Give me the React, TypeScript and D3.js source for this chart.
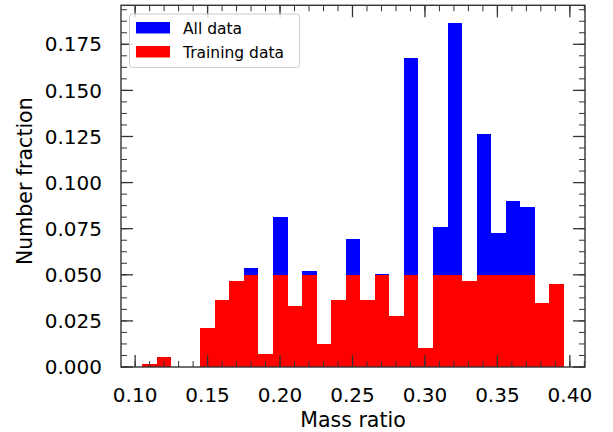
import * as d3 from "d3";

// histogram bins (29 equal bins between binStart and binEnd)
const binStart = 0.1048;
const binEnd = 0.3959;

// number fraction per bin
const allData = [
    0.0016, 0.0053, 0, 0, 0.021, 0.0362, 0.0466, 0.0538, 0.0069, 0.0814,
    0.0332, 0.052, 0.0125, 0.0362, 0.0694, 0.0362, 0.0505, 0.0277, 0.1678, 0.0101,
    0.0759, 0.1868, 0.0466, 0.1265, 0.0727, 0.09, 0.0868, 0.0346, 0.0449,
];
const trainingData = [
    0.0016, 0.0053, 0, 0, 0.021, 0.0362, 0.0466, 0.05, 0.0069, 0.05,
    0.0332, 0.05, 0.0125, 0.0362, 0.05, 0.0362, 0.05, 0.0277, 0.05, 0.0101,
    0.05, 0.05, 0.0466, 0.05, 0.05, 0.05, 0.05, 0.0346, 0.0449,
];

const xTicks = [0.1, 0.15, 0.2, 0.25, 0.3, 0.35, 0.4];
const yTicks = [0, 0.025, 0.05, 0.075, 0.1, 0.125, 0.15, 0.175];

const series = [
    { name: "All data", values: allData, color: "#0000ff" },
    { name: "Training data", values: trainingData, color: "#ff0000" },
];

const width = 613;
const height = 432;
const margin = { top: 5.3, right: 28, bottom: 65, left: 121 };
const font = "'DejaVu Sans', sans-serif";
const axisColor = "#333";

const App = () => {
    const nBins = allData.length;
    const binWidth = (binEnd - binStart) / nBins;
    const span = binEnd - binStart;

    const x = d3
        .scaleLinear()
        .domain([binStart - 0.05 * span, binEnd + 0.05 * span])
        .range([margin.left, width - margin.right]);

    const yMax = (d3.max(allData) as number) * 1.05;
    const y = d3
        .scaleLinear()
        .domain([0, yMax])
        .range([height - margin.bottom, margin.top]);

    const [x0, x1] = x.range();
    const [y0, y1] = y.range();

    // minor ticks
    const xMinor = d3.range(9, 42).map((d) => d / 100).filter((d) => d >= x.domain()[0] && d <= x.domain()[1]);
    const yMinor = d3.range(0, 40).map((d) => d * 0.00625).filter((d) => d <= yMax);

    const majorLen = 12;
    const minorLen = 6;

    return (
        <svg
            width={width}
            height={height}
            style={{ position: "absolute", left: 0, top: 0, background: "#fff" }}
            fontFamily={font}
        >
            {/* bars */}
            {series.map((s) => (
                <g key={s.name}>
                    {s.values.map((v, i) =>
                        v > 0 ? (
                            <rect
                                key={i}
                                x={x(binStart + i * binWidth)}
                                width={x(binStart + (i + 1) * binWidth) - x(binStart + i * binWidth)}
                                y={y(v)}
                                height={y(0) - y(v)}
                                fill={s.color}
                                shapeRendering="crispEdges"
                            />
                        ) : null
                    )}
                </g>
            ))}

            {/* ticks, inward on all sides */}
            <g stroke={axisColor}>
                {xMinor.map((d) => (
                    <g key={"xm" + d}>
                        <line x1={x(d)} x2={x(d)} y1={y0} y2={y0 - minorLen} strokeWidth={1} />
                        <line x1={x(d)} x2={x(d)} y1={y1} y2={y1 + minorLen} strokeWidth={1} />
                    </g>
                ))}
                {xTicks.map((d) => (
                    <g key={"xM" + d}>
                        <line x1={x(d)} x2={x(d)} y1={y0} y2={y0 - majorLen} strokeWidth={1.3} />
                        <line x1={x(d)} x2={x(d)} y1={y1} y2={y1 + majorLen} strokeWidth={1.3} />
                    </g>
                ))}
                {yMinor.map((d) => (
                    <g key={"ym" + d}>
                        <line x1={x0} x2={x0 + minorLen} y1={y(d)} y2={y(d)} strokeWidth={1} />
                        <line x1={x1} x2={x1 - minorLen} y1={y(d)} y2={y(d)} strokeWidth={1} />
                    </g>
                ))}
                {yTicks.map((d) => (
                    <g key={"yM" + d}>
                        <line x1={x0} x2={x0 + majorLen} y1={y(d)} y2={y(d)} strokeWidth={1.3} />
                        <line x1={x1} x2={x1 - majorLen} y1={y(d)} y2={y(d)} strokeWidth={1.3} />
                    </g>
                ))}
            </g>

            {/* frame */}
            <rect
                x={x0}
                y={y1}
                width={x1 - x0}
                height={y0 - y1}
                fill="none"
                stroke={axisColor}
                strokeWidth={1.4}
            />

            {/* tick labels */}
            <g fontSize={20} fill="#000">
                {xTicks.map((d) => (
                    <text key={"xl" + d} x={x(d)} y={y0 + 35} textAnchor="middle">
                        {d3.format(".2f")(d)}
                    </text>
                ))}
                {yTicks.map((d) => (
                    <text key={"yl" + d} x={x0 - 19} y={y(d)} dy="0.36em" textAnchor="end">
                        {d3.format(".3f")(d)}
                    </text>
                ))}
            </g>

            {/* axis labels */}
            <text x={(x0 + x1) / 2} y={427} textAnchor="middle" fontSize={20.5}>
                Mass ratio
            </text>
            <text
                transform={`translate(32,${(y0 + y1) / 2 - 5}) rotate(-90)`}
                textAnchor="middle"
                fontSize={20.5}
            >
                Number fraction
            </text>

            {/* legend */}
            <g transform={`translate(${x0 + 8.5},14)`}>
                <rect width={170} height={53.5} rx={3} fill="#fff" fillOpacity={0.8} stroke="#cccccc" strokeWidth={1} />
                {series.map((s, i) => (
                    <g key={s.name} transform={`translate(6.5,${8 + i * 24})`}>
                        <rect width={34} height={11.5} fill={s.color} />
                        <text x={47} y={11.5} fontSize={15.5} fill="#000">
                            {s.name}
                        </text>
                    </g>
                ))}
            </g>
        </svg>
    );
};

export default App;
